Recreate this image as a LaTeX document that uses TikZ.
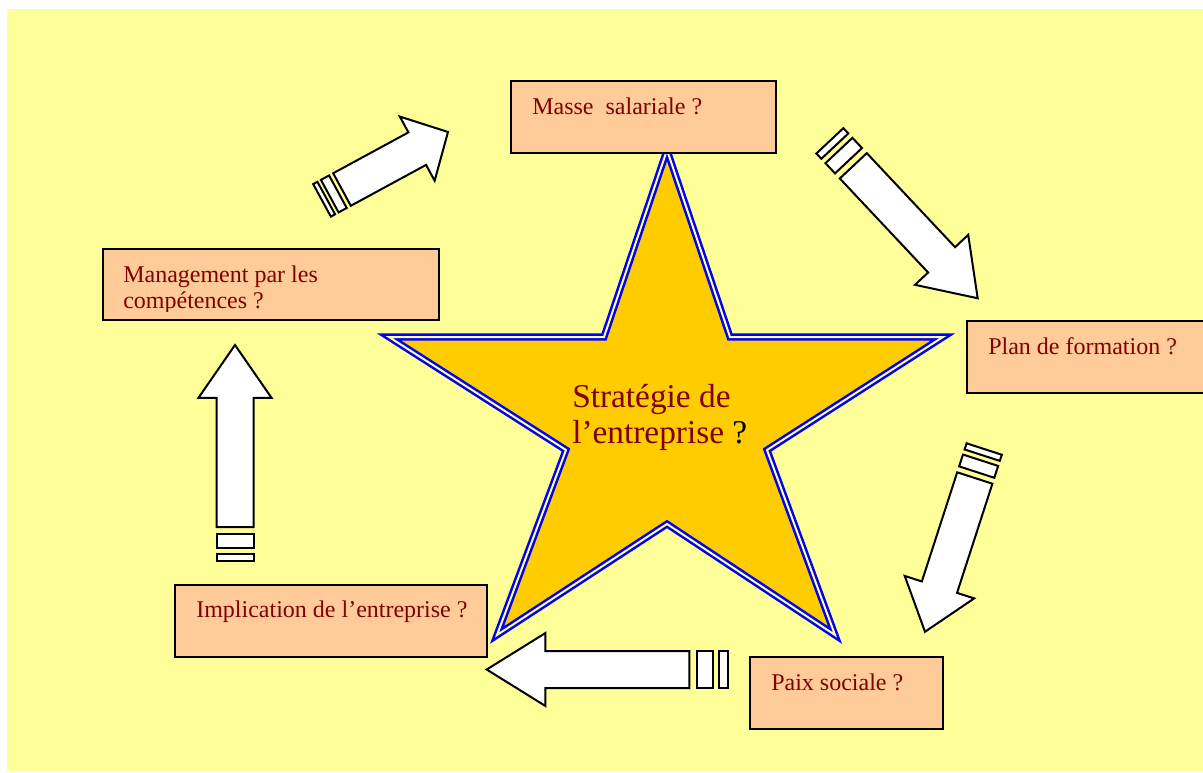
\documentclass[tikz,border=0pt]{standalone}
\usepackage{fontspec}
\setmainfont{Liberation Serif}
\usetikzlibrary{fit}
\definecolor{bgyellow}{HTML}{FFFF99}
\definecolor{boxfill}{HTML}{FFCC99}
\definecolor{starfill}{HTML}{FFCC00}
\definecolor{txtred}{HTML}{800000}
\newcommand\qm{\textcolor{black}{?}}
\tikzset{
  box/.style={draw=black, line width=1.5pt, fill=boxfill, inner sep=0pt},
  lbl/.style={text=txtred, font=\fontsize{18}{19.5}\selectfont, anchor=base west, inner sep=0pt, align=left},
  startext/.style={text=txtred, font=\fontsize{25}{27}\selectfont, anchor=base west, inner sep=0pt, align=left},
  blockarrow/.style={draw=black, line width=1.5pt, fill=white, line join=miter},
  starshape/.style={draw=blue, double=bgyellow, double distance=1.5pt, line width=1.9pt, fill=starfill, line join=miter},
}
% #1,#2 tail centre (px), #3 angle, #4 length (px)
\newcommand\blockarr[4]{%
  \begin{scope}[shift={(#1,#2)}, rotate=#3]
    \draw[blockarrow] (0,-18.5) -- ({0.71*#4},-18.5) -- ({0.71*#4},-36.5) -- (#4,0)
      -- ({0.71*#4},36.5) -- ({0.71*#4},18.5) -- (0,18.5) -- cycle;
    \draw[blockarrow] ({-0.0385*#4},-18.5) rectangle ({-0.1155*#4},18.5);
    \draw[blockarrow] ({-0.1485*#4},-18.5) rectangle ({-0.1885*#4},18.5);
  \end{scope}}
\begin{document}
\begin{tikzpicture}[x=0.75pt, y=-0.75pt]
\useasboundingbox (0,0) rectangle (1203,772);
\fill[bgyellow] (7,9) rectangle (1203,771);

% star
\draw[starshape] (667,150) -- (730,337) -- (943,337) -- (767,450) -- (835,635)
  -- (667,524) -- (497,635) -- (566,450) -- (389,337) -- (604,337) -- cycle;
\node[startext] (strat) at (572,443) {Stratégie de\\l’entreprise \qm};

% boxes
\coordinate (m1) at (511,81);   \coordinate (m2) at (776,153);
\coordinate (g1) at (103,249);  \coordinate (g2) at (439,320);
\coordinate (p1) at (967,321);  \coordinate (p2) at (1215,393);
\coordinate (i1) at (175,585);  \coordinate (i2) at (487,657);
\coordinate (s1) at (750,657);  \coordinate (s2) at (943,729);
\node[box, fit=(m1)(m2)] (masse) {};
\node[box, fit=(g1)(g2)] (manag) {};
\node[box, fit=(p1)(p2)] (plan) {};
\node[box, fit=(i1)(i2)] (impl) {};
\node[box, fit=(s1)(s2)] (paix) {};

\node[lbl] (tmasse) at (532,114) {Masse\ \ salariale ?};
\begin{scope}
  \clip (103,249) rectangle (439,311);
  \node[lbl] (tmanag) at (123,308.5) {Management par les\\compétences ?};
\end{scope}
\node[lbl] (tplan) at (988,354) {Plan de formation ?};
\node[lbl] (timpl) at (196,617) {Implication de l’entreprise ?};
\node[lbl] (tpaix) at (771,690) {Paix sociale ?};

% arrows
\blockarr{342}{189.5}{28.5}{120.6}
\blockarr{853.3}{165.8}{-46.8}{181.7}
\blockarr{974.8}{478}{-107.95}{161.6}
\blockarr{689.3}{669.5}{180}{202.6}
\blockarr{235}{527}{90}{182}
\end{tikzpicture}
\end{document}
